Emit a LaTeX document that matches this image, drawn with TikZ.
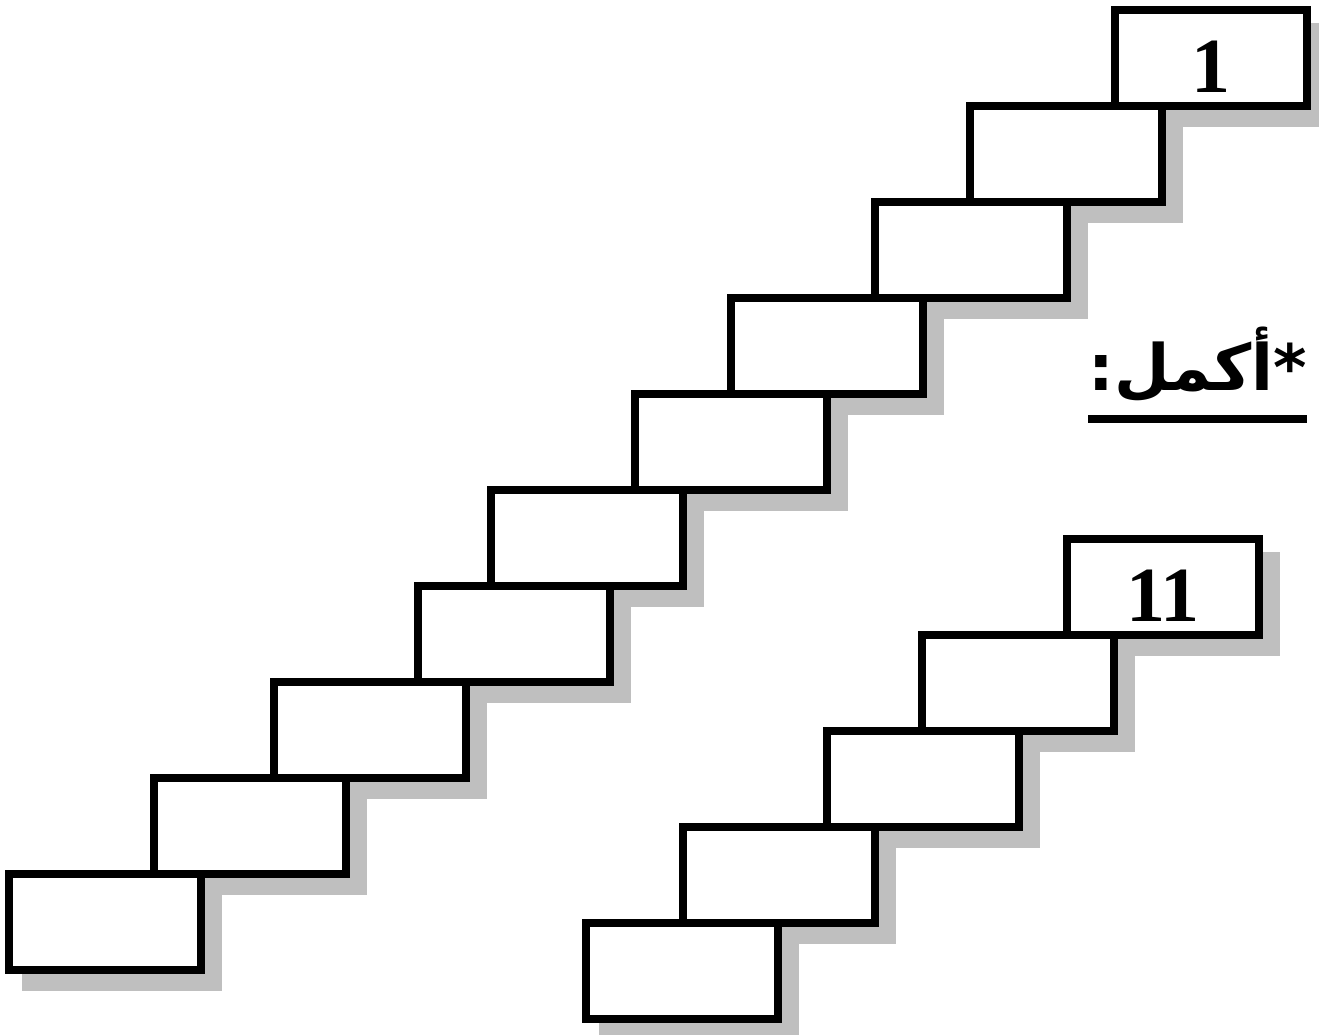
\documentclass[tikz,border=0pt]{standalone}
\usepackage{fontspec}
\setmainfont{Liberation Serif}
\newfontfamily\arabicfont[Script=Arabic]{DejaVu Sans}
\TeXXeTstate=1
\usetikzlibrary{shadows}

\begin{document}
\begin{tikzpicture}[x=1pt,y=-1pt,
  stair/.style={draw=black,fill=white,line width=8pt,
    minimum width=192pt,minimum height=96pt,inner sep=0pt,
    text height=68pt,font=\fontsize{78}{78}\selectfont\bfseries,
    drop shadow={shadow xshift=16.5pt,shadow yshift=-16.5pt,
      fill=black!25,draw=black!25,line width=8pt,opacity=1}},
  heading/.style={inner sep=0pt,
    font=\fontsize{64}{64}\selectfont\arabicfont\bfseries}
]
\useasboundingbox (0,0) rectangle (1319,1034);
\node[stair] (s1) at (1211,58) {1};
\node[stair] (s2) at (1066,154) {};
\node[stair] (s3) at (971,250) {};
\node[stair] (s4) at (827,346) {};
\node[stair] (s5) at (731,442) {};
\node[stair] (s6) at (587,538) {};
\node[stair] (s7) at (514,634) {};
\node[stair] (s8) at (370,730) {};
\node[stair] (s9) at (250,826) {};
\node[stair] (s10) at (105,922) {};
\node[stair] (t1) at (1163,587) {11};
\node[stair] (t2) at (1018,683) {};
\node[stair] (t3) at (923,779) {};
\node[stair] (t4) at (779,875) {};
\node[stair] (t5) at (682,971) {};
\node[heading,anchor=base east] (title) at (1307,390)
  {\beginR *أكمل:\endR};
\draw[line width=8pt] ([yshift=-29pt]title.base west)
  -- ([yshift=-29pt]title.base east);
\end{tikzpicture}
\end{document}
